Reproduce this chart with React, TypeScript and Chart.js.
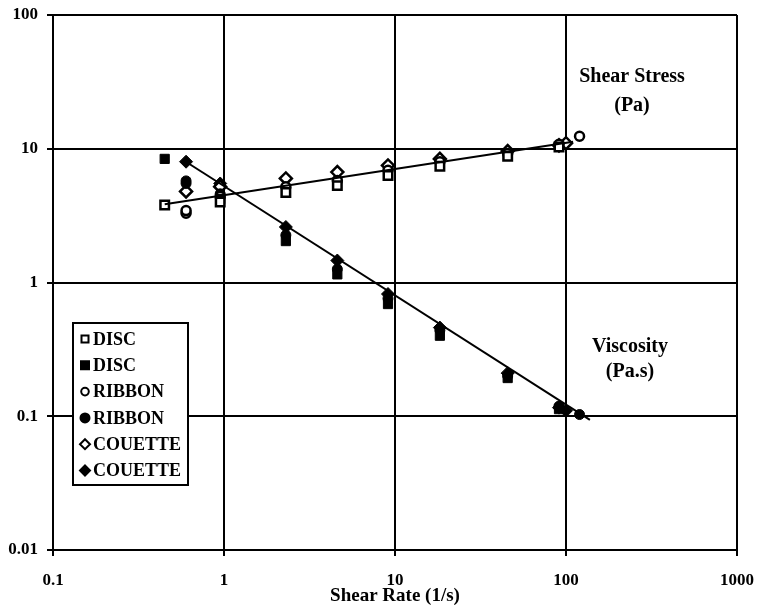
import React, { useEffect, useRef } from 'react';
import { Chart, registerables } from 'chart.js';

Chart.register(...registerables);

// Axis ticks
const xTicks = [0.1, 1, 10, 100, 1000];
const yTicks = [0.01, 0.1, 1, 10, 100];

// DISC
const discRate = [0.45, 0.95, 2.3, 4.6, 9.1, 18.3, 45.6, 91];
const discStress = [3.8, 4.0, 4.7, 5.3, 6.3, 7.4, 8.8, 10.3];
const discViscosity = [8.4, 4.2, 2.04, 1.15, 0.69, 0.4, 0.193, 0.113];

// RIBBON
const ribbonRate = [0.6, 0.6, 0.95, 2.3, 4.6, 9.1, 18.3, 45.6, 91, 120];
const ribbonStress = [3.3, 3.45, 4.4, 5.2, 5.8, 6.9, 8.0, 9.2, 10.8, 12.4];
const ribbonViscosity = [5.5, 5.75, 4.6, 2.26, 1.26, 0.76, 0.44, 0.2, 0.119, 0.103];

// COUETTE
const couetteRate = [0.6, 0.95, 2.3, 4.6, 9.1, 18.3, 45.6, 91, 100];
const couetteStress = [4.8, 5.2, 6.0, 6.7, 7.5, 8.4, 9.6, 10.6, 11.0];
const couetteViscosity = [8.0, 5.5, 2.6, 1.46, 0.82, 0.46, 0.21, 0.116, 0.11];

// Fitted power-law lines (end points)
const stressFitRate = [0.45, 110];
const stressFitValue = [3.84, 11.3];
const viscFitRate = [0.58, 138];
const viscFitValue = [8.2, 0.094];

const legendLabels = ['DISC', 'DISC', 'RIBBON', 'RIBBON', 'COUETTE', 'COUETTE'];
const legendStyles = ['rect', 'rect', 'circle', 'circle', 'rectRot', 'rectRot'];
const legendFilled = [false, true, false, true, false, true];

const FONT = '"Liberation Serif", "Times New Roman", serif';

const pts = (xs: number[], ys: number[]) => xs.map((x, i) => ({ x, y: ys[i] }));

function drawSymbol(ctx: CanvasRenderingContext2D, style: string, filled: boolean, x: number, y: number) {
  ctx.save();
  ctx.beginPath();
  if (style === 'rect') {
    const h = filled ? 4 : 3.5;
    ctx.rect(x - h, y - h, 2 * h, 2 * h);
  } else if (style === 'circle') {
    ctx.arc(x, y, filled ? 4.5 : 3.8, 0, Math.PI * 2);
  } else {
    const r = 5;
    ctx.moveTo(x, y - r);
    ctx.lineTo(x + r, y);
    ctx.lineTo(x, y + r);
    ctx.lineTo(x - r, y);
    ctx.closePath();
  }
  ctx.fillStyle = filled ? '#000' : '#fff';
  ctx.fill();
  ctx.lineWidth = 2;
  ctx.strokeStyle = '#000';
  ctx.stroke();
  ctx.restore();
}

const overlayPlugin = {
  id: 'overlay',
  afterDatasetsDraw(chart: any) {
    const ctx: CanvasRenderingContext2D = chart.ctx;
    const area = chart.chartArea;
    ctx.save();
    // legend box
    const bx = area.left + 20;
    const by = area.top + 308;
    const bw = 115;
    const bh = 162;
    ctx.fillStyle = '#fff';
    ctx.fillRect(bx, by, bw, bh);
    ctx.lineWidth = 2;
    ctx.strokeStyle = '#000';
    ctx.strokeRect(bx, by, bw, bh);
    ctx.font = `bold 18px ${FONT}`;
    ctx.fillStyle = '#000';
    ctx.textBaseline = 'middle';
    ctx.textAlign = 'left';
    legendLabels.forEach((lab, i) => {
      const y = by + 16 + i * 26.3;
      drawSymbol(ctx, legendStyles[i], legendFilled[i], bx + 12, y);
      ctx.fillStyle = '#000';
      ctx.fillText(lab, bx + 20, y + 1);
    });
    // annotations
    ctx.font = `bold 20px ${FONT}`;
    ctx.textAlign = 'center';
    ctx.fillText('Shear Stress', 632, 77);
    ctx.fillText('(Pa)', 632, 106);
    ctx.fillText('Viscosity', 630, 347);
    ctx.fillText('(Pa.s)', 630, 372);
    ctx.restore();
  },
};

export default function App() {
  const ref = useRef<HTMLCanvasElement>(null);

  useEffect(() => {
    document.body.style.margin = '0';
    const canvas = ref.current;
    if (!canvas) return;
    const tickFont = { family: FONT, size: 17, weight: 'bold' as const };
    const open = (style: string, r: number) => ({
      pointStyle: style,
      pointRadius: r,
      pointBackgroundColor: '#fff',
      pointBorderColor: '#000',
      pointBorderWidth: 2.5,
      showLine: false,
    });
    const filled = (style: string, r: number) => ({
      pointStyle: style,
      pointRadius: r,
      pointBackgroundColor: '#000',
      pointBorderColor: '#000',
      pointBorderWidth: 1,
      showLine: false,
    });
    const chart = new Chart(canvas, {
      type: 'scatter',
      data: {
        datasets: [
          {
            type: 'line',
            label: 'stress fit',
            data: pts(stressFitRate, stressFitValue),
            borderColor: '#000',
            borderWidth: 2,
            pointRadius: 0,
            showLine: true,
          } as any,
          {
            type: 'line',
            label: 'viscosity fit',
            data: pts(viscFitRate, viscFitValue),
            borderColor: '#000',
            borderWidth: 2,
            pointRadius: 0,
            showLine: true,
          } as any,
          { label: 'DISC', data: pts(discRate, discStress), ...open('rect', 6) } as any,
          { label: 'DISC', data: pts(discRate, discViscosity), ...filled('rect', 6.5) } as any,
          { label: 'RIBBON', data: pts(ribbonRate, ribbonStress), ...open('circle', 4.5) } as any,
          { label: 'RIBBON', data: pts(ribbonRate, ribbonViscosity), ...filled('circle', 5) } as any,
          { label: 'COUETTE', data: pts(couetteRate, couetteStress), ...open('rectRot', 6) } as any,
          { label: 'COUETTE', data: pts(couetteRate, couetteViscosity), ...filled('rectRot', 6.5) } as any,
        ],
      },
      options: {
        animation: false,
        responsive: false,
        devicePixelRatio: 1,
        layout: { padding: { top: 15, right: 22, left: 0, bottom: 0 } },
        plugins: {
          legend: { display: false },
          tooltip: { enabled: false },
          title: { display: false },
        },
        scales: {
          x: {
            type: 'logarithmic',
            min: 0.1,
            max: 1000,
            afterBuildTicks: (s: any) => {
              s.ticks = xTicks.map((v) => ({ value: v }));
            },
            afterFit: (s: any) => {
              s.height = 62;
              s.paddingLeft = 0;
              s.paddingRight = 0;
            },
            ticks: {
              callback: (v: any) => String(v),
              font: tickFont,
              color: '#000',
              padding: 14,
              maxRotation: 0,
              autoSkip: false,
            },
            grid: { color: '#000', lineWidth: 2, tickLength: 6, drawTicks: true },
            border: { color: '#000', width: 2 },
            title: {
              display: true,
              text: 'Shear Rate (1/s)',
              color: '#000',
              font: { family: FONT, size: 19, weight: 'bold' },
              padding: { top: 0, bottom: 5 },
            },
          },
          y: {
            type: 'logarithmic',
            min: 0.01,
            max: 100,
            afterBuildTicks: (s: any) => {
              s.ticks = yTicks.map((v) => ({ value: v }));
            },
            afterFit: (s: any) => {
              s.width = 53;
              s.paddingTop = 0;
              s.paddingBottom = 0;
            },
            ticks: {
              callback: (v: any) => String(v),
              font: tickFont,
              color: '#000',
              padding: 9,
              autoSkip: false,
            },
            grid: { color: '#000', lineWidth: 2, tickLength: 6, drawTicks: true },
            border: { color: '#000', width: 2 },
          },
        },
      },
      plugins: [overlayPlugin],
    });
    return () => chart.destroy();
  }, []);

  return (
    <div style={{ width: 759, height: 612, background: '#fff' }}>
      <canvas ref={ref} width={759} height={612} style={{ display: 'block' }} />
    </div>
  );
}
